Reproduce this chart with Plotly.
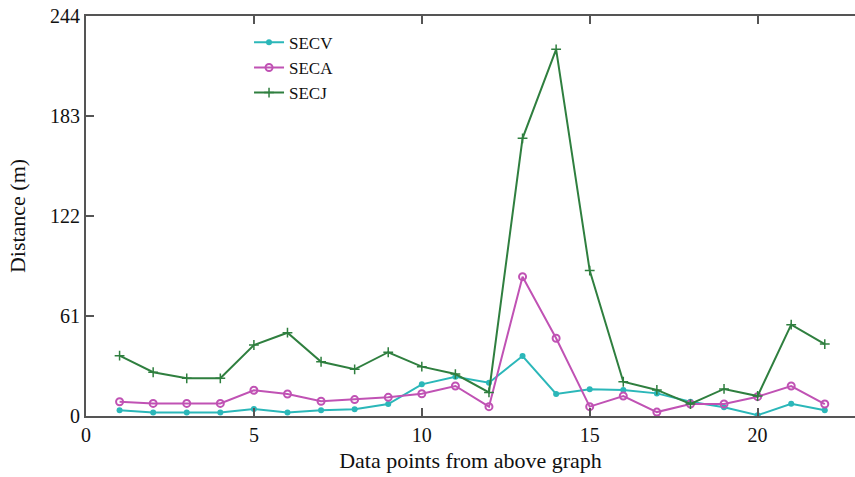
import plotly.graph_objects as go

# Data point index along the route
points = list(range(1, 23))

# Distances (m) for each method
secv = [3.5, 2.2, 2.2, 2.2, 4.3, 2.2, 3.5, 4.1, 7.3, 19.3, 24.0, 20.3,
        36.6, 13.4, 16.3, 15.9, 13.8, 8.7, 5.3, 0.5, 7.5, 3.5]
seca = [8.7, 7.7, 7.7, 7.7, 15.7, 13.4, 9.0, 10.0, 11.4, 13.6, 18.3, 5.7,
        85.0, 47.4, 5.7, 12.2, 2.4, 7.3, 7.3, 11.8, 18.3, 7.3]
secj = [36.8, 26.7, 23.0, 23.0, 43.3, 50.8, 33.1, 28.5, 38.9, 30.1, 25.6, 14.4,
        169.4, 223.7, 88.7, 20.9, 15.9, 7.3, 16.5, 12.2, 55.7, 43.9]

y_ticks = [0, 61, 122, 183, 244]
x_ticks = [0, 5, 10, 15, 20]

FONT = "Liberation Serif"
AXIS_COLOR = "#555555"

fig = go.Figure()
fig.add_trace(go.Scatter(
    x=points, y=secv, name="SECV", mode="lines+markers",
    line=dict(color="#2bb7b9", width=2),
    marker=dict(symbol="circle", size=6, color="#2bb7b9"),
))
fig.add_trace(go.Scatter(
    x=points, y=seca, name="SECA", mode="lines+markers",
    line=dict(color="#c052b4", width=2),
    marker=dict(symbol="circle-open", size=7, color="#c052b4",
                line=dict(width=2, color="#c052b4")),
))
fig.add_trace(go.Scatter(
    x=points, y=secj, name="SECJ", mode="lines+markers",
    line=dict(color="#2f7f3f", width=2),
    marker=dict(symbol="cross-thin", size=7, color="#2f7f3f",
                line=dict(width=1.5, color="#2f7f3f")),
))

fig.update_layout(
    width=855, height=477,
    margin=dict(l=86, r=0, t=16, b=61),
    paper_bgcolor="white", plot_bgcolor="white",
    font=dict(family=FONT, size=20, color="#111111"),
    showlegend=True,
    legend=dict(
        x=0.212, y=0.978, xanchor="left", yanchor="top",
        bgcolor="rgba(0,0,0,0)", font=dict(family=FONT, size=17),
        tracegroupgap=0, itemwidth=30,
    ),
    xaxis=dict(
        range=[0, 22.9], tickvals=x_ticks, ticktext=[str(v) for v in x_ticks],
        showgrid=False, zeroline=False,
        showline=True, linecolor=AXIS_COLOR, linewidth=2, mirror="ticks",
        ticks="inside", ticklen=8, tickwidth=2, tickcolor=AXIS_COLOR,
        tickfont=dict(family=FONT, size=20),
        title=dict(text="Data points from above graph", standoff=8,
                   font=dict(family=FONT, size=22)),
    ),
    yaxis=dict(
        range=[0, 244], tickvals=y_ticks, ticktext=[str(v) for v in y_ticks],
        showgrid=False, zeroline=False,
        showline=True, linecolor=AXIS_COLOR, linewidth=2,
        ticks="inside", ticklen=8, tickwidth=2, tickcolor=AXIS_COLOR,
        tickfont=dict(family=FONT, size=20),
        title=dict(text="Distance (m)", standoff=18,
                   font=dict(family=FONT, size=22)),
    ),
)

fig.write_html("out.html")
